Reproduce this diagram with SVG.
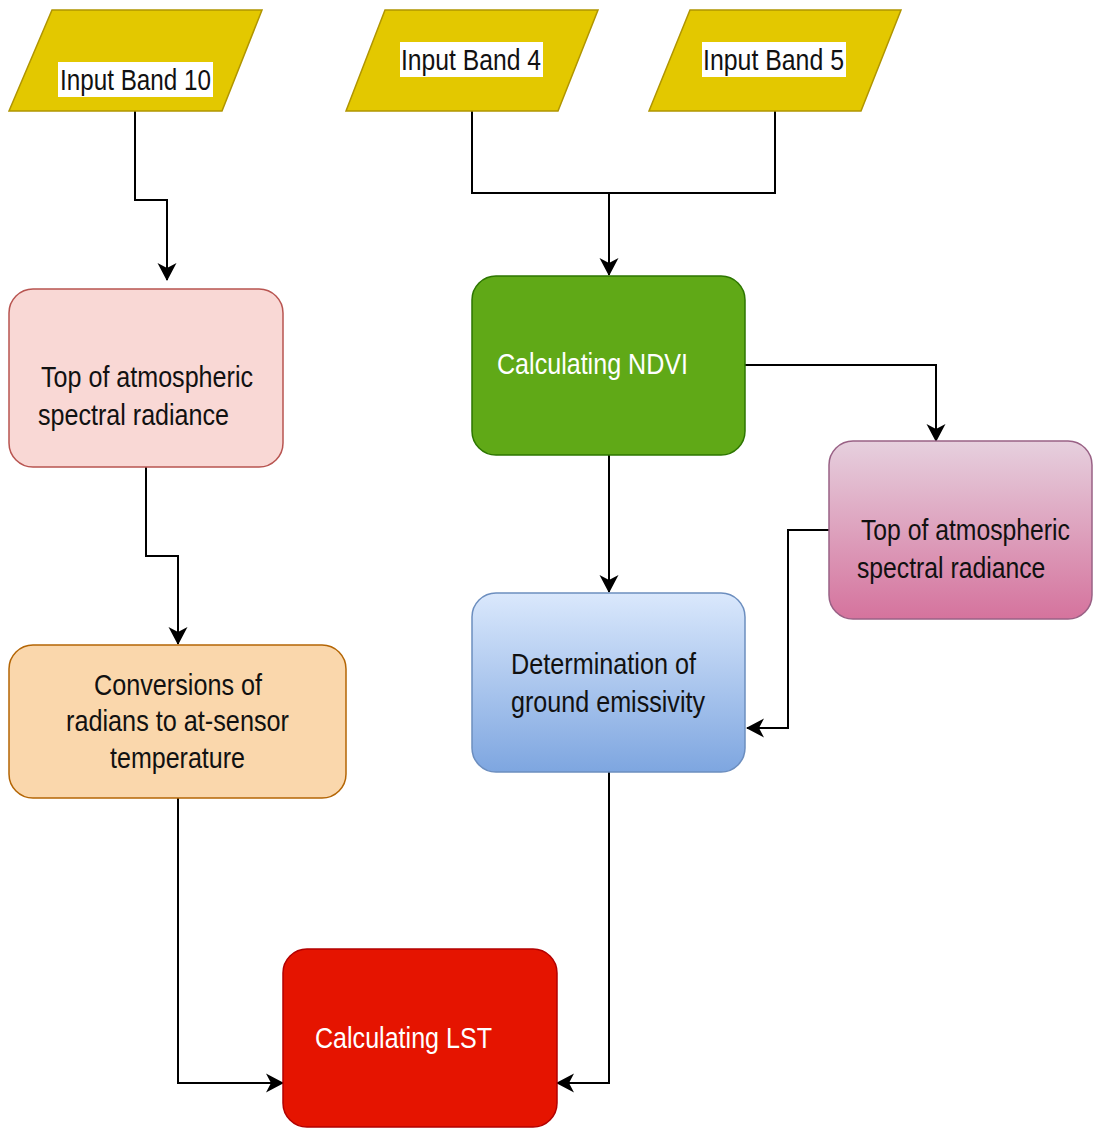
<svg xmlns="http://www.w3.org/2000/svg" width="1094" height="1129" viewBox="0 0 1094 1129">
<defs>
<linearGradient id="gPink" x1="0" y1="0" x2="0" y2="1"><stop offset="0" stop-color="#e6d0de"/><stop offset="1" stop-color="#d5739d"/></linearGradient>
<linearGradient id="gBlue" x1="0" y1="0" x2="0" y2="1"><stop offset="0" stop-color="#dae8fc"/><stop offset="1" stop-color="#7ea6e0"/></linearGradient>
<marker id="arr" viewBox="0 0 18 20" refX="17" refY="10" markerWidth="18" markerHeight="20" markerUnits="userSpaceOnUse" orient="auto">
<path d="M0,0.5 L18,10 L0,19.5 L5,10 Z" fill="#000"/>
</marker>
<style>
.lbl{font-family:"Liberation Sans",Arial,sans-serif;font-size:29px;fill:#111;}
.wht{fill:#fff;}
.io{fill:#e3c800;stroke:#b09500;stroke-width:1.5;}
.edge{fill:none;stroke:#000;stroke-width:2;marker-end:url(#arr);}
.line{fill:none;stroke:#000;stroke-width:2;}
</style>
</defs>
<g id="connectors">
<path class="edge" d="M135,111 V200 H167 V280"/>
<path class="line" d="M472,111 V193 H775 V111"/>
<path class="edge" d="M609,193 V275"/>
<path class="edge" d="M745,365 H936 V441"/>
<path class="edge" d="M609,455 V592"/>
<path class="edge" d="M829,530 H788 V728 H747"/>
<path class="edge" d="M146,467 V556 H178 V644"/>
<path class="edge" d="M178,798 V1083 H283"/>
<path class="edge" d="M609,772 V1083 H557"/>
</g>
<g id="band10">
<polygon class="io" points="52,10 262,10 222,111 9,111"/>
<rect x="58" y="62" width="155" height="35" fill="#fff"/>
<text class="lbl" x="60" y="90" textLength="151" lengthAdjust="spacingAndGlyphs">Input Band 10</text>
</g>
<g id="band4">
<polygon class="io" points="385,10 598,10 558,111 346,111"/>
<rect x="400" y="42" width="143" height="35" fill="#fff"/>
<text class="lbl" x="401" y="70" textLength="140" lengthAdjust="spacingAndGlyphs">Input Band 4</text>
</g>
<g id="band5">
<polygon class="io" points="690,10 901,10 861,111 649,111"/>
<rect x="702" y="42" width="144" height="35" fill="#fff"/>
<text class="lbl" x="703" y="70" textLength="141" lengthAdjust="spacingAndGlyphs">Input Band 5</text>
</g>
<g id="toa1">
<rect x="9" y="289" width="274" height="178" rx="24" fill="#f9d8d5" stroke="#b85450" stroke-width="1.5"/>
<text class="lbl" x="41" y="387" textLength="212" lengthAdjust="spacingAndGlyphs">Top of atmospheric</text>
<text class="lbl" x="38" y="425" textLength="191" lengthAdjust="spacingAndGlyphs">spectral radiance</text>
</g>
<g id="ndvi">
<rect x="472" y="276" width="273" height="179" rx="24" fill="#60a917" stroke="#2d7600" stroke-width="1.5"/>
<text class="lbl wht" x="497" y="374" textLength="191" lengthAdjust="spacingAndGlyphs">Calculating NDVI</text>
</g>
<g id="toa2">
<rect x="829" y="441" width="263" height="178" rx="24" fill="url(#gPink)" stroke="#996185" stroke-width="1.5"/>
<text class="lbl" transform="translate(861,540) scale(0.853,1)" x="0" y="0">Top of atmospheric</text>
<text class="lbl" transform="translate(857,578) scale(0.853,1)" x="0" y="0">spectral radiance</text>
</g>
<g id="conversion">
<rect x="9" y="645" width="337" height="153" rx="24" fill="#fad7ac" stroke="#b46504" stroke-width="1.5"/>
<text class="lbl" x="94" y="695" textLength="168" lengthAdjust="spacingAndGlyphs">Conversions of</text>
<text class="lbl" x="66" y="731" textLength="223" lengthAdjust="spacingAndGlyphs">radians to at-sensor</text>
<text class="lbl" x="110" y="768" textLength="135" lengthAdjust="spacingAndGlyphs">temperature</text>
</g>
<g id="emissivity">
<rect x="472" y="593" width="273" height="179" rx="24" fill="url(#gBlue)" stroke="#6c8ebf" stroke-width="1.5"/>
<text class="lbl" x="511" y="674" textLength="185" lengthAdjust="spacingAndGlyphs">Determination of</text>
<text class="lbl" x="511" y="712" textLength="194" lengthAdjust="spacingAndGlyphs">ground emissivity</text>
</g>
<g id="lst">
<rect x="283" y="949" width="274" height="178" rx="24" fill="#e51400" stroke="#b20000" stroke-width="1.5"/>
<text class="lbl wht" x="315" y="1048" textLength="177" lengthAdjust="spacingAndGlyphs">Calculating LST</text>
</g>
</svg>
